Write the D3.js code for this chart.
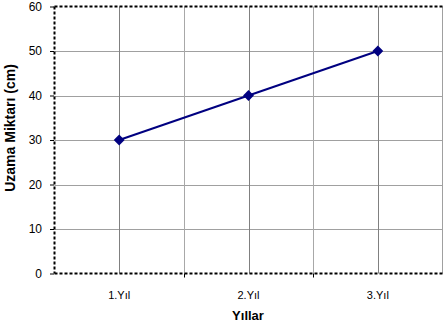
<!DOCTYPE html>
<html>
<head>
<meta charset="utf-8">
<script src="https://cdn.jsdelivr.net/npm/d3@7"></script>
<style>
  html, body { margin: 0; padding: 0; background: #fff; }
  svg { display: block; font-family: "Liberation Sans", Arial, sans-serif; }
</style>
</head>
<body>
<svg id="chart" width="443" height="327"></svg>
<script>
// Growth per year
const categories = ["1.Yıl", "2.Yıl", "3.Yıl"];
const values = [30, 40, 50];
const yTicks = [0, 10, 20, 30, 40, 50, 60];

const svg = d3.select("#chart");
const plotLeft = 54.5, plotRight = 442.5, plotTop = 6.5, plotBottom = 273.5;

const x = d3.scaleBand().domain(categories).range([plotLeft, plotRight]);
const y = d3.scaleLinear().domain([0, 60]).range([plotBottom, plotTop]);

// Horizontal gridlines
svg.append("g").selectAll("line").data(yTicks.slice(1, -1)).join("line")
  .attr("x1", plotLeft).attr("x2", plotRight)
  .attr("y1", d => Math.round(y(d)) + 0.5).attr("y2", d => Math.round(y(d)) + 0.5)
  .attr("stroke", "#a0a0a0").attr("stroke-width", 1);

// Vertical gridlines at band boundaries (lighter) and category centres (darker)
const boundaries = categories.slice(1).map(c => x(c));
svg.append("g").selectAll("line").data(boundaries).join("line")
  .attr("x1", d => Math.round(d) + 0.5).attr("x2", d => Math.round(d) + 0.5)
  .attr("y1", plotTop).attr("y2", plotBottom)
  .attr("stroke", "#a8a8a8").attr("stroke-width", 1);
svg.append("g").selectAll("line").data(categories).join("line")
  .attr("x1", d => Math.round(x(d) + x.bandwidth() / 2) + 0.5)
  .attr("x2", d => Math.round(x(d) + x.bandwidth() / 2) + 0.5)
  .attr("y1", plotTop).attr("y2", plotBottom)
  .attr("stroke", "#808080").attr("stroke-width", 1);

// Right border
svg.append("line").attr("x1", plotRight).attr("x2", plotRight).attr("y1", plotTop).attr("y2", plotBottom)
  .attr("stroke", "#a0a0a0").attr("stroke-width", 1);

// Dashed plot frame: top, left, bottom
function dashed(x1, y1, x2, y2) {
  svg.append("line").attr("x1", x1).attr("y1", y1).attr("x2", x2).attr("y2", y2)
    .attr("stroke", "#000").attr("stroke-width", 2).attr("stroke-dasharray", "3,2");
}
dashed(plotLeft, plotTop, plotRight, plotTop);
dashed(plotLeft, plotTop, plotLeft, plotBottom);
dashed(plotLeft, plotBottom, plotRight, plotBottom);

// Y axis
const yAxis = svg.append("g").attr("transform", `translate(${plotLeft - 0.5},0)`)
  .call(d3.axisLeft(y).tickValues(yTicks).tickSize(4).tickPadding(8));
yAxis.select(".domain").remove();
yAxis.selectAll(".tick line").attr("stroke", "#000");
yAxis.selectAll(".tick text").attr("font-size", 12).attr("fill", "#000")
  .attr("font-family", "Liberation Sans, Arial, sans-serif");

// X axis ticks at band boundaries
svg.append("g").selectAll("line").data(boundaries).join("line")
  .attr("x1", d => Math.round(d) + 0.5).attr("x2", d => Math.round(d) + 0.5)
  .attr("y1", plotBottom).attr("y2", plotBottom + 4).attr("stroke", "#000");
svg.append("g").selectAll("text").data(categories).join("text")
  .attr("x", d => x(d) + x.bandwidth() / 2)
  .attr("y", 299)
  .attr("text-anchor", "middle")
  .attr("font-size", 11)
  .text(d => d);

// Axis titles
svg.append("text").attr("x", 248).attr("y", 320)
  .attr("text-anchor", "middle").attr("font-size", 13).attr("font-weight", "bold")
  .text("Yıllar");
svg.append("text").attr("transform", "translate(15,128) rotate(-90)")
  .attr("text-anchor", "middle").attr("font-size", 14).attr("font-weight", "bold")
  .text("Uzama Miktarı (cm)");

// Series line and diamond markers
const cx = d => x(d) + x.bandwidth() / 2;
svg.append("path")
  .datum(categories.map((c, i) => [cx(c), y(values[i])]))
  .attr("d", d3.line())
  .attr("fill", "none").attr("stroke", "#000080").attr("stroke-width", 2);
svg.append("g").selectAll("path").data(categories).join("path")
  .attr("transform", (c, i) => `translate(${cx(c)},${y(values[i])})`)
  .attr("d", d3.symbol(d3.symbolDiamond2, 75))
  .attr("fill", "#000080");
</script>
</body>
</html>
